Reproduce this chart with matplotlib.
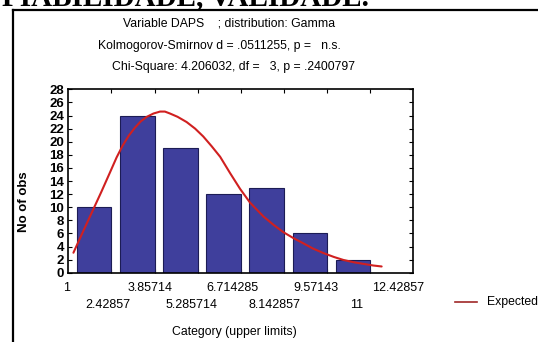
import matplotlib
matplotlib.use("Agg")
import matplotlib.pyplot as plt
from matplotlib.lines import Line2D

plt.rcParams['font.family'] = ['Liberation Sans', 'DejaVu Sans']

# ---- data ----
upper_limits = [1, 2.42857, 3.85714, 5.285714, 6.714285, 8.142857, 9.57143, 11, 12.42857]
limit_labels = ["1", "2.42857", "3.85714", "5.285714", "6.714285", "8.142857", "9.57143", "11", "12.42857"]
bar_upper = [2.42857, 3.85714, 5.285714, 6.714285, 8.142857, 9.57143, 11]
counts = [10, 24, 19, 12, 13, 6, 2]
expected_x = [1.17, 1.50, 1.83, 2.10, 2.38, 2.60, 2.80, 3.00, 3.20, 3.40, 3.60, 3.82, 4.04,
              4.20, 4.37, 4.62, 4.92, 5.20, 5.47, 5.75, 6.03, 6.36, 6.69, 7.02, 7.46,
              7.80, 8.12, 8.45, 8.78, 9.10, 9.45, 9.80, 10.11, 10.45, 10.77, 11.10, 11.38]
expected_y = [3.05, 6.4, 9.7, 12.4, 15.3, 17.6, 19.4, 20.9, 22.1, 23.1, 23.8, 24.3, 24.6,
              24.6, 24.3, 23.8, 23.0, 22.0, 20.8, 19.3, 17.7, 15.2, 12.8, 10.7, 8.6,
              7.3, 6.2, 5.3, 4.5, 3.7, 3.0, 2.4, 1.95, 1.6, 1.35, 1.1, 0.95]
yticks = list(range(0, 29, 2))
title_lines = ["Variable DAPS    ; distribution: Gamma",
               "Kolmogorov-Smirnov d = .0511255, p =   n.s.",
               "Chi-Square: 4.206032, df =   3, p = .2400797"]

W, H = 538, 342
fig = plt.figure(figsize=(W / 100, H / 100), dpi=100)
fig.patch.set_facecolor('white')

def fx(px):
    return px / W

def fy(py):
    return 1 - py / H

# outer frame (top and left edges visible)
fig.add_artist(Line2D([fx(12.5), fx(12.5)], [fy(10), fy(H + 5)], color='black', lw=1.6))
fig.add_artist(Line2D([fx(12.5), fx(W + 5)], [fy(10), fy(10)], color='black', lw=1.6))

# clipped heading fragment at the very top
fig.text(fx(2), fy(5), "FIABILIDADE, VALIDADE.", family=['Liberation Serif', 'DejaVu Serif'],
         fontweight='bold', fontsize=21, va='baseline', ha='left', color='black')

# titles
for txt, cx, cy in zip(title_lines, [229, 219, 234], [23.5, 45.5, 67]):
    fig.text(fx(cx), fy(cy), txt, ha='center', va='center', fontsize=8.8, color='black')

ax = fig.add_axes([fx(68.3), fy(272.7), fx(413.3) - fx(68.3), fy(89.3) - fy(272.7)])
step = upper_limits[1] - upper_limits[0]
ax.bar(bar_upper, counts, width=-0.8 * step, align='edge',
       color='#3f3f9c', edgecolor='#1c1c55', linewidth=0.8, zorder=2)
ax.plot(expected_x, expected_y, color='#d02020', lw=1.5, zorder=3,
        solid_joinstyle='round', solid_capstyle='round')

ax.set_xlim(upper_limits[0], upper_limits[-1])
ax.set_ylim(0, 28)
ax.set_yticks(yticks)
ax.set_yticklabels([str(v) for v in yticks], fontsize=9.5, fontweight='bold')
ax.set_xticks(upper_limits[1:-1])
ax.set_xticklabels([])
ax.tick_params(axis='both', direction='in', length=3, width=0.8,
               top=True, right=True, bottom=True, left=True)
ax.tick_params(axis='y', pad=3)
for s in ax.spines.values():
    s.set_linewidth(1.2)
    s.set_color('black')

# staggered category labels
tr = ax.get_xaxis_transform()
for i, (v, lab) in enumerate(zip(upper_limits, limit_labels)):
    xpos = v - 0.05 - 0.039 * (v - upper_limits[0])
    ypos = -0.083 if i % 2 == 0 else -0.176
    ax.text(xpos, ypos, lab, transform=tr, ha='center', va='center', fontsize=9, clip_on=False)

ax.set_ylabel("No of obs", fontsize=9.5, fontweight='bold')
ax.yaxis.set_label_coords((30 - 68.3) / 345, 0.385)
fig.text(fx(234), fy(331.5), "Category (upper limits)", ha='center', va='center', fontsize=8.8)

# legend
fig.add_artist(Line2D([fx(455), fx(477)], [fy(301.5), fy(301.5)], color='#a02828', lw=1.2))
fig.text(fx(487), fy(301.5), "Expected", ha='left', va='center', fontsize=8.8)

fig.savefig("out.png", dpi=100)
